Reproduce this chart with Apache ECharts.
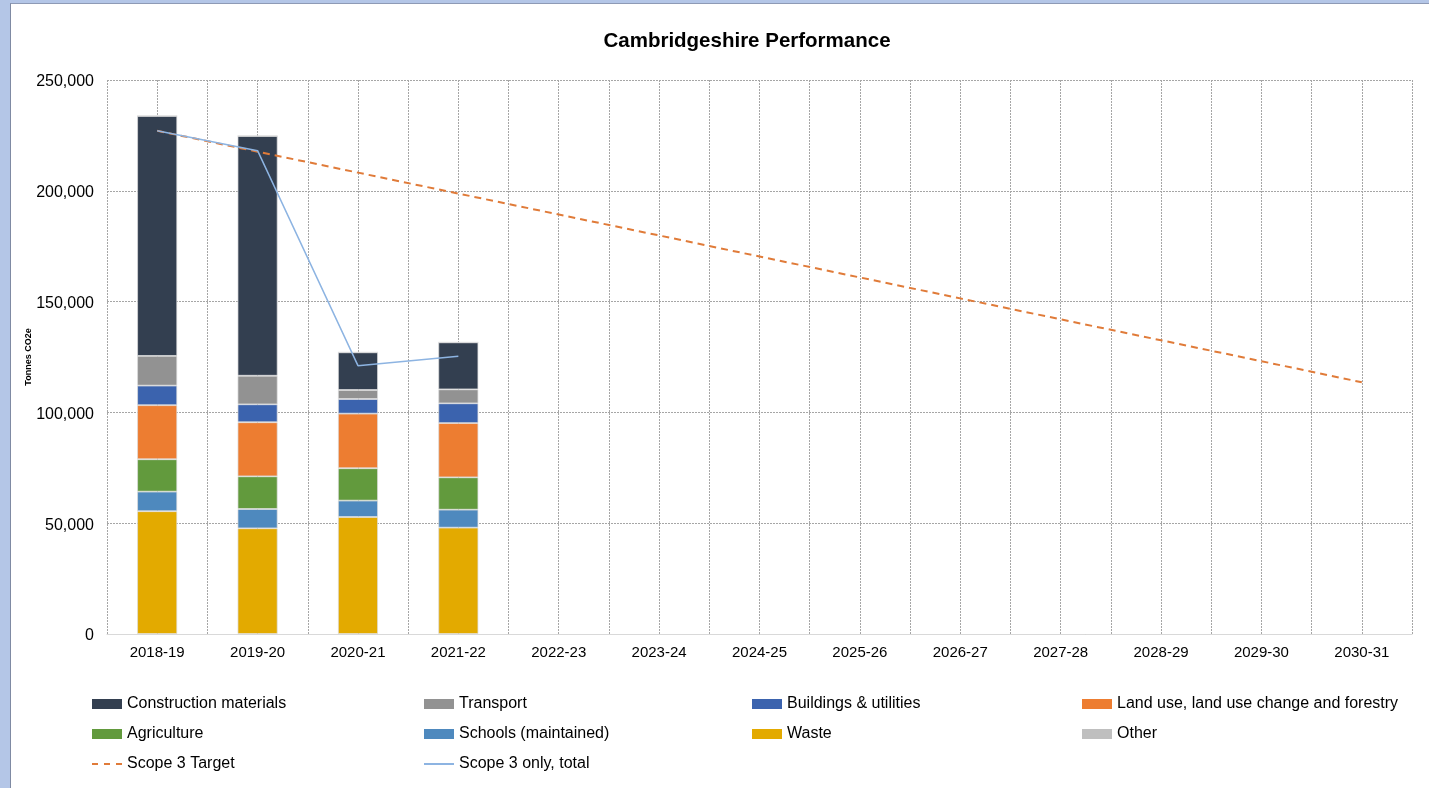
<!DOCTYPE html>
<html>
<head>
<meta charset="utf-8">
<script src="https://cdn.jsdelivr.net/npm/echarts@6/dist/echarts.min.js"></script>
<style>
  html, body { margin: 0; padding: 0; width: 1429px; height: 788px; overflow: hidden; background: #B4C6E7; }
  #frame { position: absolute; left: 10px; top: 3px; width: 1419px; height: 785px; background: #fff; border-left: 1px solid #7F8AA3; border-top: 1px solid #8E9AB5; box-sizing: border-box; }
  #chart { position: absolute; left: 0; top: 0; width: 1429px; height: 788px; }
</style>
</head>
<body>
<div id="frame"></div>
<div id="chart"></div>
<script>
const categories = ['2018-19','2019-20','2020-21','2021-22','2022-23','2023-24','2024-25','2025-26','2026-27','2027-28','2028-29','2029-30','2030-31'];
const waste        = [55400, 47700, 52800, 48000];
const schools      = [8850, 8700, 7400, 8100];
const agriculture  = [14600, 14750, 14600, 14600];
const landUse      = [24400, 24400, 24650, 24500];
const buildings    = [8850, 8100, 6600, 8900];
const transport    = [13400, 12900, 4050, 6300];
const construction = [108300, 108200, 17000, 21200];
const other        = [0, 0, 0, 0];
const scope3Target = [227100, 217650, 208200, 198750, 189300, 179850, 170350, 160900, 151450, 142000, 132550, 123100, 113600];
const scope3Total  = [227100, 218100, 121100, 125300];
const yTicks = [0, 50000, 100000, 150000, 200000, 250000];

const FONT = 'Liberation Sans, Arial, sans-serif';
const chart = echarts.init(document.getElementById('chart'), null, { renderer: 'canvas' });

const barNames = [
  ['Waste', waste, '#E3AA00'],
  ['Schools (maintained)', schools, '#4E89BE'],
  ['Agriculture', agriculture, '#629A3D'],
  ['Land use, land use change and forestry', landUse, '#ED7D31'],
  ['Buildings & utilities', buildings, '#3B63AE'],
  ['Transport', transport, '#929292'],
  ['Construction materials', construction, '#333F50'],
  ['Other', other, '#BFBFBF']
];

const barSeries = barNames.map(([name, data, color]) => ({
  name, type: 'bar', stack: 'total', data, barWidth: 40,
  itemStyle: { color, borderColor: 'rgba(220,220,220,0.9)', borderWidth: 0.8 },
  emphasis: { disabled: true }
}));

const DASH_ICON = 'path://M0,0h6v2h-6zM12,0h6v2h-6zM24,0h6v2h-6z';
const LINE_ICON = 'path://M0,0h30v2h-30z';
const legendLayout = [
  ['Construction materials', 92, 703, 'rect'], ['Transport', 424, 703, 'rect'], ['Buildings & utilities', 752, 703, 'rect'], ['Land use, land use change and forestry', 1082, 703, 'rect'],
  ['Agriculture', 92, 733, 'rect'], ['Schools (maintained)', 424, 733, 'rect'], ['Waste', 752, 733, 'rect'], ['Other', 1082, 733, 'rect'],
  ['Scope 3 Target', 92, 763, DASH_ICON], ['Scope 3 only, total', 424, 763, LINE_ICON]
];
const legends = legendLayout.map(([name, x, y, icon]) => ({
  data: [{ name, icon }], left: x, top: y - 7, padding: 0, itemWidth: 30, itemHeight: 10,
  symbolKeepAspect: true,
  itemStyle: { borderWidth: 0 },
  selectedMode: false, textStyle: { fontFamily: FONT, fontSize: 16, color: '#000' }
}));

chart.setOption({
  animation: false,
  backgroundColor: 'transparent',
  title: {
    text: 'Cambridgeshire Performance', left: 742, top: 26, textAlign: 'center',
    textStyle: { fontFamily: FONT, fontSize: 20.5, fontWeight: 'bold', color: '#000' }
  },
  legend: legends,
  grid: { left: 107, top: 80, width: 1305, height: 554, containLabel: false },
  xAxis: [
    {
      type: 'category', data: categories, boundaryGap: true,
      axisLine: { lineStyle: { color: '#D9D9D9', width: 1 } },
      axisTick: { show: false },
      axisLabel: { fontFamily: FONT, fontSize: 15, color: '#000', margin: 11 },
      splitLine: { show: false }
    },
    {
      type: 'value', min: 0, max: 26, interval: 1, position: 'bottom',
      axisLine: { show: false }, axisTick: { show: false }, axisLabel: { show: false },
      splitLine: { show: true, lineStyle: { color: '#A6A6A6', type: [2, 1], width: 1 } }
    }
  ],
  yAxis: {
    type: 'value', min: yTicks[0], max: yTicks[yTicks.length - 1], interval: yTicks[1] - yTicks[0],
    name: 'Tonnes CO2e', nameLocation: 'middle', nameRotate: 90, nameGap: 74, nameMoveOverlap: false,
    nameTextStyle: { fontFamily: FONT, fontSize: 9, fontWeight: 'bold', color: '#000' },
    axisLine: { show: false }, axisTick: { show: false },
    axisLabel: { fontFamily: FONT, fontSize: 16, color: '#000', margin: 13, verticalAlign: 'top', lineHeight: 4,
      formatter: v => v.toLocaleString('en-US') },
    splitLine: { show: true, lineStyle: { color: '#A6A6A6', type: [2, 1], width: 1 } }
  },
  series: [
    ...barSeries,
    {
      name: 'Scope 3 Target', type: 'line', data: scope3Target, symbol: 'none',
      lineStyle: { color: '#E07B39', width: 2, type: [7, 5] },
      itemStyle: { color: '#E07B39' }, emphasis: { disabled: true }, z: 3
    },
    {
      name: 'Scope 3 only, total', type: 'line', data: scope3Total, symbol: 'none',
      lineStyle: { color: '#8DB4E2', width: 1.5 },
      itemStyle: { color: '#8DB4E2' }, emphasis: { disabled: true }, z: 4
    }
  ]
});
</script>
</body>
</html>
